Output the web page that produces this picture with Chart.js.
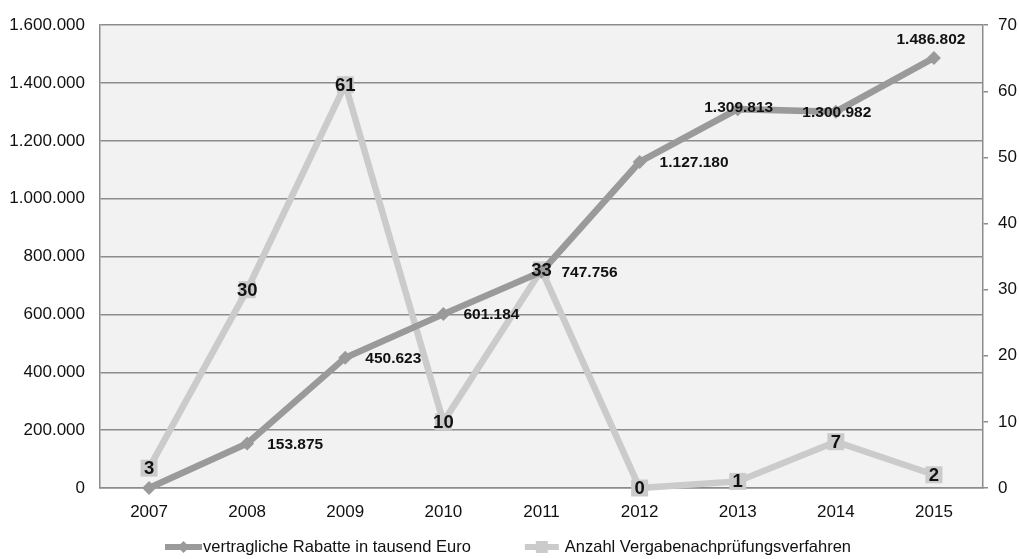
<!DOCTYPE html>
<html>
<head>
<meta charset="utf-8">
<script src="https://cdn.jsdelivr.net/npm/chart.js@4/dist/chart.umd.min.js"></script>
<style>
  html, body { margin: 0; padding: 0; background: #ffffff; }
  #wrap { width: 1019px; height: 559px; position: relative; }
</style>
</head>
<body>
<div id="wrap"><canvas id="c" width="1019" height="559"></canvas></div>
<script>
// Jahre und Werte
const years = ['2007', '2008', '2009', '2010', '2011', '2012', '2013', '2014', '2015'];
const rabatte = [0, 153875, 450623, 601184, 747756, 1127180, 1309813, 1300982, 1486802];
const verfahren = [3, 30, 61, 10, 33, 0, 1, 7, 2];
const seriesNames = ['vertragliche Rabatte in tausend Euro', 'Anzahl Vergabenachprüfungsverfahren'];

// Achsenbereiche
const rabattAxis = { min: 0, max: 1600000, step: 200000 };
const verfahrenAxis = { min: 0, max: 70, step: 10 };

// Lage der Wertbeschriftungen der Rabatt-Linie
const rabattLabelPlacement = ['none', 'right', 'right', 'right', 'right', 'right', 'center', 'centerLow', 'above'];

const FONT = '"Liberation Sans", Arial, Helvetica, sans-serif';
const DARK = '#9a9a9a';
const LIGHT = '#cbcbcb';
const GRID = '#8c8c8c';

function deNumber(v) {
  return String(Math.round(v)).replace(/\B(?=(\d{3})+(?!\d))/g, '.');
}

// Beschriftungen an den Punkten
const valueLabels = {
  id: 'valueLabels',
  afterDatasetsDraw(chart) {
    const ctx = chart.ctx;
    ctx.save();
    // Rabatte
    const m0 = chart.getDatasetMeta(0);
    ctx.fillStyle = '#111';
    ctx.font = 'bold 15.5px ' + FONT;
    ctx.textBaseline = 'middle';
    m0.data.forEach((pt, i) => {
      const p = rabattLabelPlacement[i];
      if (p === 'none') return;
      const txt = deNumber(rabatte[i]);
      if (p === 'right') {
        ctx.textAlign = 'left';
        ctx.fillText(txt, pt.x + 20, pt.y + 1);
      } else if (p === 'center') {
        ctx.textAlign = 'center';
        ctx.fillText(txt, pt.x + 1, pt.y - 1);
      } else if (p === 'centerLow') {
        ctx.textAlign = 'center';
        ctx.fillText(txt, pt.x + 1, pt.y + 1);
      } else if (p === 'above') {
        ctx.textAlign = 'center';
        ctx.fillText(txt, pt.x - 3, pt.y - 18);
      }
    });
    // Verfahren
    const m1 = chart.getDatasetMeta(1);
    ctx.font = 'bold 18.5px ' + FONT;
    ctx.textAlign = 'center';
    ctx.textBaseline = 'middle';
    m1.data.forEach((pt, i) => {
      ctx.fillText(String(verfahren[i]), pt.x, pt.y + 1);
    });
    ctx.restore();
  }
};

// Legende unter dem Diagramm
const lineLegend = {
  id: 'lineLegend',
  afterDraw(chart) {
    const ctx = chart.ctx;
    ctx.save();
    ctx.font = '16.5px ' + FONT;
    ctx.textBaseline = 'middle';
    ctx.textAlign = 'left';
    const y = 547;
    let x = 165;
    const styles = [
      { color: DARK, marker: 'diamond', len: 37, gap: 1 },
      { color: LIGHT, marker: 'square', len: 34, gap: 6 }
    ];
    seriesNames.forEach((name, i) => {
      const s = styles[i];
      ctx.strokeStyle = s.color;
      ctx.lineWidth = 6;
      ctx.beginPath();
      ctx.moveTo(x, y);
      ctx.lineTo(x + s.len, y);
      ctx.stroke();
      ctx.fillStyle = s.color;
      const cx = x + s.len / 2;
      ctx.beginPath();
      if (s.marker === 'diamond') {
        ctx.moveTo(cx, y - 6); ctx.lineTo(cx + 6, y); ctx.lineTo(cx, y + 6); ctx.lineTo(cx - 6, y);
        ctx.closePath();
      } else {
        ctx.rect(cx - 6, y - 6, 12, 12);
      }
      ctx.fill();
      ctx.fillStyle = '#111';
      ctx.fillText(name, x + s.len + s.gap, y);
      x += s.len + s.gap + ctx.measureText(name).width + 54;
    });
    ctx.restore();
  }
};

new Chart(document.getElementById('c'), {
  type: 'line',
  data: {
    labels: years,
    datasets: [
      {
        label: seriesNames[0],
        data: rabatte,
        yAxisID: 'y',
        borderColor: DARK,
        backgroundColor: DARK,
        borderWidth: 6.5,
        pointStyle: 'rectRot',
        pointRadius: 7,
        pointBorderWidth: 0,
        tension: 0,
        order: 0,
        clip: false
      },
      {
        label: seriesNames[1],
        data: verfahren,
        yAxisID: 'y1',
        borderColor: LIGHT,
        backgroundColor: LIGHT,
        borderWidth: 6.5,
        pointStyle: 'rect',
        pointRadius: 12,
        pointBorderWidth: 0,
        tension: 0,
        order: 1,
        clip: false
      }
    ]
  },
  options: {
    responsive: false,
    animation: false,
    devicePixelRatio: 1,
    layout: { padding: { top: 20, left: 0, right: 0, bottom: 0 } },
    plugins: {
      legend: { display: false },
      tooltip: { enabled: false }
    },
    scales: {
      x: {
        type: 'category',
        offset: true,
        grid: { display: false, drawTicks: false },
        border: { display: true, color: GRID, width: 1.5 },
        ticks: { color: '#111', font: { family: FONT, size: 17 }, padding: 14, maxRotation: 0 },
        afterFit(scale) { scale.height = 71; }
      },
      y: {
        position: 'left',
        min: rabattAxis.min,
        max: rabattAxis.max,
        grid: { color: GRID, lineWidth: 1.5, drawTicks: false },
        border: { display: true, color: GRID, width: 1.5 },
        ticks: {
          stepSize: rabattAxis.step,
          color: '#111',
          font: { family: FONT, size: 17 },
          padding: 15,
          callback: (v) => deNumber(v)
        },
        afterFit(scale) { scale.width = 100; }
      },
      y1: {
        position: 'right',
        min: verfahrenAxis.min,
        max: verfahrenAxis.max,
        grid: { drawOnChartArea: false, drawTicks: true, tickLength: 5, color: GRID, lineWidth: 1.5 },
        border: { display: true, color: GRID, width: 1.5 },
        ticks: {
          stepSize: verfahrenAxis.step,
          color: '#111',
          font: { family: FONT, size: 17 },
          padding: 10
        },
        afterFit(scale) { scale.width = 36; }
      }
    }
  },
  plugins: [{
    id: 'plotBackground',
    beforeDraw(chart) {
      const a = chart.chartArea;
      const ctx = chart.ctx;
      ctx.save();
      ctx.fillStyle = '#ffffff';
      ctx.fillRect(0, 0, chart.width, chart.height);
      ctx.fillStyle = '#f2f2f2';
      ctx.fillRect(a.left, a.top, a.right - a.left, a.bottom - a.top);
      ctx.restore();
    }
  }, valueLabels, lineLegend]
});
</script>
</body>
</html>
